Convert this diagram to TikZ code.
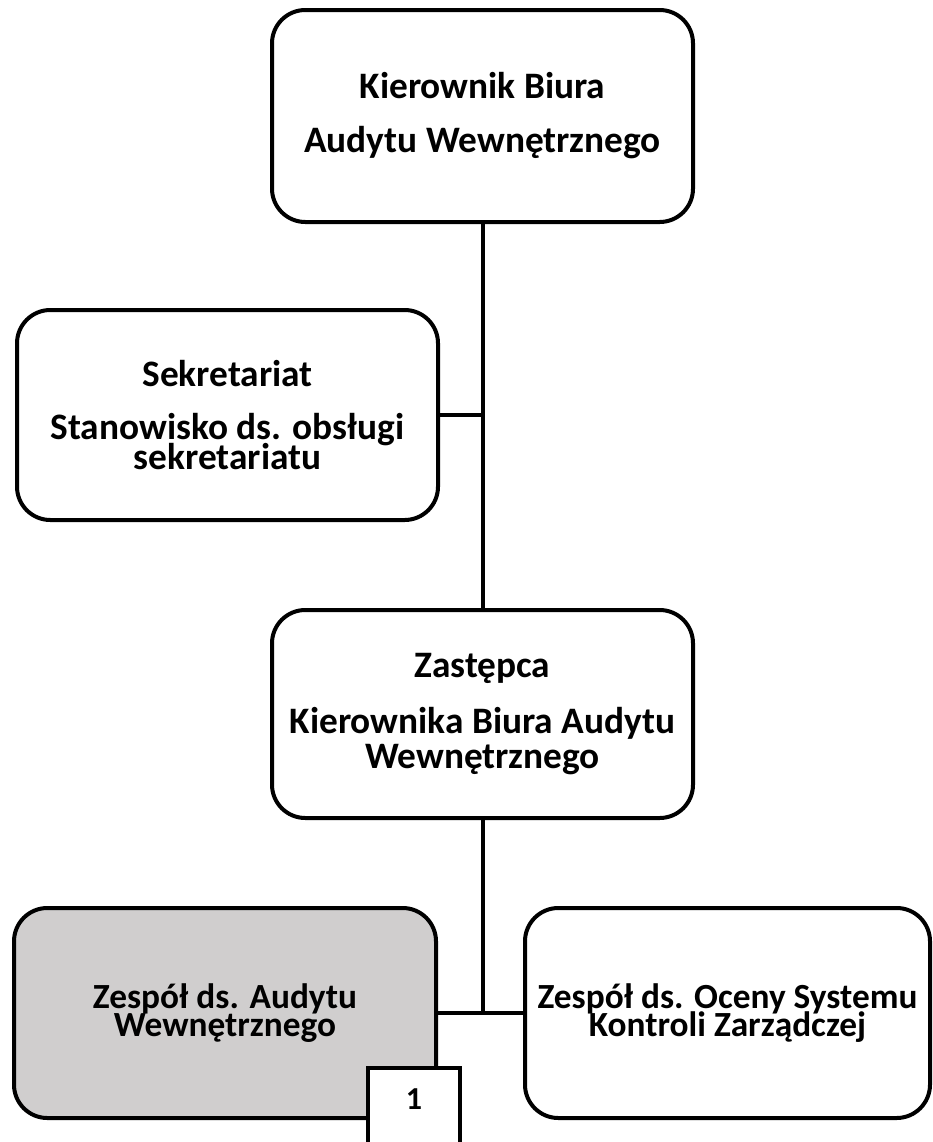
\documentclass[tikz,border=0pt]{standalone}
\usepackage{fontspec}
\setmainfont{Carlito}
\usetikzlibrary{calc}

\definecolor{teamgray}{HTML}{D0CECE}
\newcommand{\unitfont}{\bfseries\fontsize{28}{20}\selectfont\lineskiplimit=-50pt\relax}
\newcommand{\teamfont}{\bfseries\fontsize{26.5}{21.5}\selectfont\lineskiplimit=-50pt\relax}

\begin{document}
\begin{tikzpicture}[x=0.75pt, y=-0.75pt]
		\tikzstyle{unit}=[rectangle, draw, rounded corners=25pt, line width=3pt, fill=white, align=flush center, inner sep=0pt, text width=305pt, minimum width=315.75pt, minimum height=157.5pt, font=\unitfont]
		\tikzstyle{team}=[unit, font=\teamfont, text width=300pt]
		\tikzstyle{link}=[line width=3pt]

		\useasboundingbox (0,0) rectangle (932,1142);
		\clip (0,0) rectangle (932,1142);

		\node[unit, minimum height=159pt] (boss) at (482.5,116) {
			Kierownik Biura\\[20.5pt] Audytu Wewnętrznego
		};

		\node[unit] (office) at (227.5,415) {
			Sekretariat\\[20pt] Stanowisko ds. obsługi\\[2.5pt] sekretariatu
		};

		\node[unit, minimum height=156pt] (deputy) at (482.5,714) {
			Zastępca\\[22pt] Kierownika Biura Audytu\\[6pt] Wewnętrznego
		};

		\node[team, fill=teamgray, minimum width=316.5pt] (audit) at (225,1013) {
			Zespół ds. Audytu\\ Wewnętrznego
		};

		\node[team, minimum width=303.75pt] (control) at (727.5,1013) {
			Zespół ds. Oceny Systemu\\ Kontroli Zarządczej
		};

		\draw[link] (boss.south) -- (deputy.north);
		\draw[link] (office.east) -- (office.east -| boss.south);
		\draw[link] (deputy.south) -- (deputy.south |- audit.east);
		\draw[link] (audit.east) -- (control.west);

		% numbered tab on the audit team box
		\draw[link, fill=white] (368,1068) rectangle (460,1160);
		\node[font=\bfseries\fontsize{24}{26}\selectfont] (tab) at (414,1099) {1};

	\end{tikzpicture}
\end{document}
